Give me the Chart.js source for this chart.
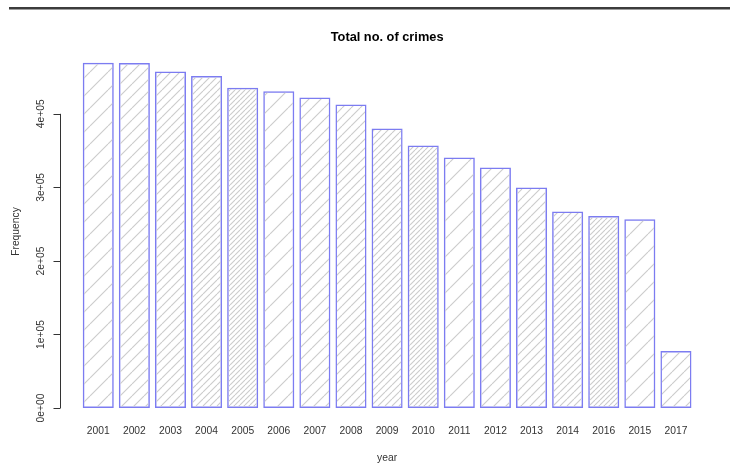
<!DOCTYPE html>
<html>
<head>
<meta charset="utf-8">
<script src="https://cdn.jsdelivr.net/npm/chart.js@4.4.1/dist/chart.umd.min.js"></script>
<style>
  html, body { margin: 0; padding: 0; background: #fff; }
  #wrap { width: 730px; height: 466px; }
</style>
</head>
<body>
<div id="wrap"><canvas id="crimes" width="730" height="466"></canvas></div>
<script>
// years, already sorted by number of crimes
const years = ['2001', '2002', '2003', '2004', '2005', '2006', '2007', '2008', '2009',
               '2010', '2011', '2012', '2013', '2014', '2016', '2015', '2017'];
const crimes = [469300, 469000, 457500, 451600, 435300, 430700, 422100, 412600, 380000,
                356900, 340600, 327000, 299900, 267200, 261000, 256800, 77400];
const yTicks = [0, 100000, 200000, 300000, 400000];
const yTickLabels = ['0e+00', '1e+05', '2e+05', '3e+05', '4e+05'];
const mainTitle = 'Total no. of crimes';

const FONT = '"Liberation Sans", Arial, Helvetica, sans-serif';

// diagonal shading, five densities repeated like R's density= argument
function hatch(step) {
  const c = document.createElement('canvas');
  c.width = step; c.height = step;
  const g = c.getContext('2d');
  g.strokeStyle = '#cbcbcb';
  g.lineWidth = 1.1;
  for (let k = -1; k <= 1; k++) {
    g.beginPath();
    g.moveTo(k * step, step);
    g.lineTo(k * step + step, 0);
    g.stroke();
  }
  return g.createPattern(c, 'repeat');
}
const steps = [18, 12, 9, 7, 5];
const patterns = steps.map(hatch);
const fills = years.map((y, i) => patterns[i % steps.length]);

// R style decorations: top rule, main title over the plot region,
// y axis line between first and last tick with rotated labels
const rAxis = {
  id: 'rAxis',
  beforeDraw(chart) {
    const ctx = chart.ctx;
    ctx.save();
    ctx.fillStyle = '#3c3c3c';
    ctx.fillRect(9, 7, 721, 2.5);
    ctx.restore();
  },
  afterDraw(chart) {
    const ctx = chart.ctx;
    const area = chart.chartArea;
    const y = chart.scales.y;
    const x0 = 60;
    ctx.save();

    ctx.fillStyle = '#000';
    ctx.font = 'bold 12.8px ' + FONT;
    ctx.textAlign = 'center';
    ctx.textBaseline = 'middle';
    ctx.fillText(mainTitle, (area.left + area.right) / 2, 37);

    ctx.strokeStyle = '#333';
    ctx.lineWidth = 1;
    ctx.beginPath();
    ctx.moveTo(x0 + 0.5, y.getPixelForValue(yTicks[0]));
    ctx.lineTo(x0 + 0.5, y.getPixelForValue(yTicks[yTicks.length - 1]));
    yTicks.forEach(v => {
      const py = Math.round(y.getPixelForValue(v)) + 0.5;
      ctx.moveTo(x0 + 0.5, py);
      ctx.lineTo(x0 - 6.5, py);
    });
    ctx.stroke();
    ctx.fillStyle = '#333';
    ctx.font = '10.3px ' + FONT;
    yTicks.forEach((v, i) => {
      ctx.save();
      ctx.translate(41, y.getPixelForValue(v));
      ctx.rotate(-Math.PI / 2);
      ctx.fillText(yTickLabels[i], 0, 0);
      ctx.restore();
    });
    ctx.restore();
  }
};

new Chart(document.getElementById('crimes'), {
  type: 'bar',
  data: {
    labels: years,
    datasets: [{
      data: crimes,
      backgroundColor: fills,
      borderColor: 'rgba(110, 110, 240, 0.9)',
      borderWidth: 1.5,
      borderSkipped: false,
      barPercentage: 0.86,
      categoryPercentage: 1
    }]
  },
  options: {
    responsive: false,
    animation: false,
    layout: { padding: { left: 0, right: 36, top: 55, bottom: 0 } },
    plugins: {
      legend: { display: false },
      tooltip: { enabled: false },
      title: { display: false }
    },
    scales: {
      x: {
        grid: { display: false, drawTicks: false },
        border: { display: false },
        ticks: { color: '#333', font: { family: FONT, size: 10.3 }, padding: 16.8, maxRotation: 0, autoSkip: false },
        title: {
          display: true,
          text: 'year',
          color: '#333',
          font: { family: FONT, size: 10.3 },
          padding: { top: 14, bottom: 1.6 }
        },
        afterFit(scale) { scale.height = 58; }
      },
      y: {
        min: 0,
        max: 480000,
        grid: { display: false, drawTicks: false },
        border: { display: false },
        ticks: { display: false },
        title: {
          display: true,
          text: 'Frequency',
          color: '#333',
          font: { family: FONT, size: 10.3 },
          padding: { top: 9.8, bottom: 0 }
        },
        afterFit(scale) { scale.width = 80.2; }
      }
    }
  },
  plugins: [rAxis]
});
</script>
</body>
</html>
